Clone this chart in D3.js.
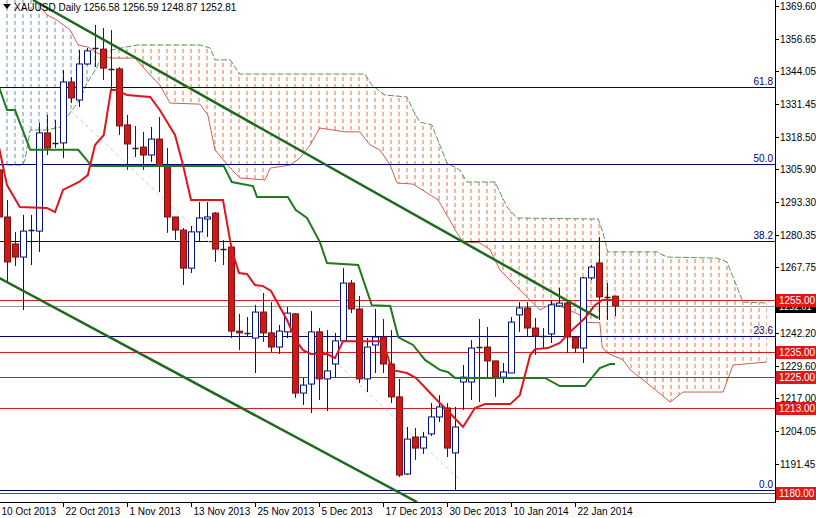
<!DOCTYPE html>
<html><head><meta charset="utf-8">
<script src="https://cdn.jsdelivr.net/npm/d3@7"></script>
<style>body{margin:0;background:#fff}svg{display:block}text{font-family:"Liberation Sans",Arial,sans-serif}</style>
</head><body><svg id="c" width="816" height="518"></svg>
<script>
// OHLC per daily bar (index 0 = 10 Oct 2013)
const opens=[1305.7,1287.4,1276.9,1271.8,1281.9,1281.9,1320.1,1316.2,1316.2,1339.9,1332.9,1346.9,1353.1,1352.7,1345.0,1345.0,1323.2,1314.2,1314.6,1311.5,1317.7,1307.2,1287.4,1282.3,1267.5,1281.6,1286.6,1288.9,1274.9,1275.7,1243.0,1242.3,1240.3,1250.4,1242.3,1236.8,1242.7,1249.7,1218.9,1222.4,1242.7,1224.4,1230.2,1239.2,1261.7,1251.6,1224.4,1237.6,1240.7,1230.2,1217.4,1187.4,1201.8,1197.5,1203.0,1209.6,1213.1,1195.6,1223.2,1223.2,1236.8,1236.8,1231.4,1225.1,1226.7,1249.3,1252.0,1244.2,1241.1,1241.9,1252.8,1253.9,1240.7,1236.4,1263.7,1269.5,1256.3,1256.58];
const highs=[1317.3,1294.0,1281.6,1288.2,1288.2,1324.0,1327.1,1325.1,1344.6,1341.8,1352.3,1353.1,1362.1,1360.9,1360.1,1345.7,1327.1,1322.8,1320.5,1322.4,1326.3,1314.2,1287.4,1283.1,1283.9,1293.2,1293.2,1289.3,1278.4,1276.5,1249.7,1248.5,1253.2,1257.8,1254.3,1245.4,1252.4,1250.0,1225.1,1250.8,1244.2,1243.4,1242.3,1267.5,1262.9,1256.7,1240.3,1251.6,1247.7,1243.4,1224.4,1205.7,1205.3,1203.8,1215.0,1218.1,1215.0,1213.5,1229.8,1239.5,1247.7,1244.6,1231.4,1230.6,1248.5,1254.3,1254.3,1248.1,1244.2,1255.1,1259.8,1254.3,1240.7,1264.0,1268.7,1279.6,1261.7,1256.59];
const lows=[1282.3,1261.7,1268.3,1251.2,1268.7,1273.8,1311.5,1314.2,1310.3,1331.7,1330.2,1346.5,1345.7,1340.7,1336.8,1319.3,1305.7,1310.7,1305.7,1308.8,1297.1,1281.2,1278.4,1260.9,1265.6,1277.7,1279.6,1269.9,1268.7,1240.3,1235.6,1240.7,1226.7,1238.8,1234.9,1234.1,1240.3,1217.0,1214.3,1211.1,1216.2,1211.9,1224.8,1238.8,1250.0,1222.8,1219.3,1226.7,1226.7,1215.0,1186.2,1187.0,1192.9,1195.2,1202.2,1207.6,1194.0,1181.2,1212.3,1216.2,1215.4,1224.8,1217.4,1222.8,1226.7,1242.7,1240.7,1233.7,1236.4,1238.4,1252.4,1234.5,1234.5,1230.6,1262.9,1247.3,1247.3,1248.87];
const closes=[1287.4,1269.9,1271.8,1281.9,1282.3,1320.1,1314.2,1316.0,1339.9,1333.7,1346.9,1352.0,1352.9,1345.3,1344.8,1322.8,1315.8,1314.0,1311.5,1317.7,1307.2,1287.4,1282.3,1267.5,1281.6,1287.0,1287.4,1274.9,1274.7,1243.0,1242.3,1242.1,1250.4,1242.3,1236.8,1243.0,1250.0,1218.9,1222.0,1242.7,1224.4,1227.5,1239.2,1261.7,1251.6,1224.4,1236.8,1240.7,1230.2,1217.4,1187.0,1201.0,1197.5,1201.8,1209.6,1213.5,1197.5,1205.7,1225.1,1236.4,1236.6,1231.4,1225.1,1227.1,1246.5,1252.0,1244.2,1241.1,1240.9,1253.2,1253.9,1240.7,1236.4,1263.7,1267.9,1256.3,1256.1,1252.81];
// Ichimoku lines as [bar index, price] vertices
const tenkan=[[0,1314.6],[1,1299.8],[2.6,1291.3],[6,1290.9],[7,1289.3],[8,1297.9],[10,1301.0],[11.1,1303.7],[12,1315.4],[13.1,1319.3],[14,1336.8],[14.75,1336.8],[16,1334.8],[18.9,1334.1],[20.1,1329.0],[22,1319.3],[23,1307.6],[24,1294.0],[28,1294.0],[29.1,1274.5],[30,1265.6],[31,1265.2],[32,1260.9],[33,1260.5],[34,1258.6],[36,1247.3],[37.1,1239.5],[38,1235.6],[39,1234.1],[41,1234.1],[42,1232.5],[43,1239.1],[48,1239.1],[49.1,1227.9],[51,1226.7],[52.1,1224.8],[53.9,1218.9],[55.1,1215.0],[56,1212.3],[58,1205.7],[59.5,1213.1],[60.75,1214.6],[63.9,1214.6],[65.1,1218.1],[65.75,1225.9],[66.4,1233.7],[67,1236.0],[68.6,1236.4],[70.1,1238.4],[71.4,1242.7],[73.25,1248.1],[74.5,1253.1],[75.4,1255.1],[77.4,1255.1]];
const kijun=[[0,1338.0],[1,1329.0],[2,1329.0],[3.9,1313.5],[9.9,1313.5],[11.6,1307.2],[28.1,1307.2],[29.1,1301.0],[31.75,1299.4],[32.25,1295.2],[36.1,1295.2],[37.1,1290.1],[38.5,1287.0],[40.1,1277.7],[41,1269.5],[44.9,1268.7],[45.75,1260.9],[46.6,1253.1],[48.9,1252.8],[49.9,1240.7],[51,1238.8],[51.75,1237.6],[53.25,1231.8],[55.1,1227.9],[56.1,1227.1],[57,1224.8],[68.25,1224.8],[70.1,1221.6],[73.25,1221.6],[75.1,1228.6],[76.4,1230.2],[77,1230.2]];
const spanA=[[0,1387.4],[3.9,1373.7],[6,1366.0],[7.25,1364.0],[8.9,1360.1],[9.9,1354.3],[11.1,1353.5],[12.25,1351.2],[13.9,1349.2],[17,1349.2],[18.9,1342.6],[20.1,1338.7],[21.4,1331.7],[25.1,1331.3],[26.1,1327.1],[27,1313.5],[28.9,1306.4],[30.1,1302.6],[33.25,1301.8],[33.9,1306.4],[36.4,1307.6],[37.6,1310.3],[38.9,1315.4],[40.1,1322.0],[43.25,1320.5],[45.1,1320.5],[46.4,1315.4],[47.6,1313.5],[48.9,1307.6],[49.75,1300.6],[51.75,1300.2],[54.9,1294.0],[57.25,1281.2],[58,1277.7],[60.1,1277.3],[61.4,1274.6],[62.6,1266.8],[64.25,1261.7],[65.5,1257.8],[67.6,1251.2],[69.25,1253.9],[72.6,1249.3],[73,1246.5],[75.1,1246.2],[75.4,1236.8],[76,1234.5],[78,1231.8],[78.9,1227.9],[81,1222.8],[83.9,1215.4],[85.5,1219.3],[90.5,1219.3],[91.75,1229.8],[96,1231.0]];
const spanB=[[0,1307.6],[2.9,1307.6],[3.25,1309.6],[3.9,1321.2],[5.75,1321.2],[7.9,1322.4],[8.5,1326.3],[10.1,1332.9],[11,1339.5],[12.25,1345.7],[13,1351.2],[13.9,1352.3],[17.25,1354.3],[25.1,1354.3],[26.4,1353.1],[27,1348.5],[28.9,1348.5],[30.1,1343.0],[45.75,1343.0],[46.6,1338.7],[48.25,1334.8],[51,1334.1],[51.75,1329.0],[52.6,1324.3],[54.1,1323.2],[56,1308.4],[57.6,1305.7],[58.5,1301.0],[62,1301.0],[63.5,1291.3],[64.75,1287.0],[74.9,1286.6],[75.5,1281.2],[76.1,1273.8],[82.25,1273.8],[83.5,1271.8],[89.75,1271.4],[91,1269.9],[92.25,1260.2],[93,1254.3],[96,1253.9]];
const trendLines=[[[4.25,1371.8],[74.9,1248.1]],[[0,1263.7],[52.25,1176.5]]];
const guideLine=[[8.9,1329.0],[57.6,1185.1]];
const fibLevels=[{p:1337.9,t:"61.8"},{p:1308.0,t:"50.0"},{p:1278.1,t:"38.2"},{p:1240.9,t:"23.6"},{p:1181.2,t:"0.0"}];
const levels=[1255,1235,1225,1213,1180];
const lastPrice=1252.81;
const yTicks=[1369.60,1356.65,1344.05,1331.45,1318.50,1305.90,1293.30,1280.35,1267.75,1242.20,1229.60,1217.00,1204.05,1191.45];
const xTickIdx=[0,8,16,24,32,40,48,56,64,72];
const xTickLab=["10 Oct 2013","22 Oct 2013","1 Nov 2013","13 Nov 2013","25 Nov 2013","5 Dec 2013","17 Dec 2013","30 Dec 2013","10 Jan 2014","22 Jan 2014"];
const title="XAUUSD Daily  1256.58 1256.59 1248.87 1252.81";

const W=775,H=502;
const svg=d3.select("#c");
const x=d3.scaleLinear().domain([0,1]).range([-1,7]);
const y=d3.scaleLinear().domain([1371.8,1180]).range([0,493.05]);
const defs=svg.append("defs");
defs.append("clipPath").attr("id","plot").append("rect").attr("width",W).attr("height",H);
defs.append("clipPath").attr("id","bull").append("rect").attr("x",0).attr("width",x(13.5)).attr("height",H);
defs.append("clipPath").attr("id","bear").append("rect").attr("x",x(13.5)).attr("width",W).attr("height",H);
function pat(id,col){const p=defs.append("pattern").attr("id",id).attr("patternUnits","userSpaceOnUse").attr("x",x(0)-0.5).attr("y",0).attr("width",8).attr("height",7);
 p.append("rect").attr("x",0).attr("y",0).attr("width",1).attr("height",4).attr("fill",col);}
pat("pb","#6f8cab");pat("po","#d9773f");
const g=svg.append("g").attr("clip-path","url(#plot)");
const line=d3.line().x(d=>x(d[0])).y(d=>y(d[1]));
const poly=spanA.concat(spanB.slice().reverse());
g.append("path").attr("d",line(poly)+"Z").attr("fill","url(#pb)").attr("clip-path","url(#bull)");
g.append("path").attr("d",line(poly)+"Z").attr("fill","url(#po)").attr("clip-path","url(#bear)");
g.append("path").attr("d",line(spanA)).attr("fill","none").attr("stroke","#b83a2b").attr("stroke-width",0.8);
g.append("path").attr("d",line(spanB)).attr("fill","none").attr("stroke","#2e7d2e").attr("stroke-width",0.8).attr("stroke-dasharray","6,2");
fibLevels.forEach(f=>{g.append("line").attr("x1",0).attr("x2",W).attr("y1",Math.round(y(f.p))+0.5).attr("y2",Math.round(y(f.p))+0.5).attr("stroke","#000070").attr("stroke-width",1);
 svg.append("text").attr("x",773).attr("y",Math.round(y(f.p))-2).attr("text-anchor","end").attr("font-size",10).attr("fill","#000070").text(f.t);});
levels.forEach(l=>g.append("line").attr("x1",0).attr("x2",W).attr("y1",Math.round(y(l))+0.5).attr("y2",Math.round(y(l))+0.5).attr("stroke","#d42020").attr("stroke-width",1));
g.append("line").attr("x1",0).attr("x2",W).attr("y1",Math.round(y(lastPrice))+0.5).attr("y2",Math.round(y(lastPrice))+0.5).attr("stroke","#999").attr("stroke-width",1);
g.append("path").attr("d",line(guideLine)).attr("stroke","#ccc").attr("stroke-dasharray","4,3").attr("fill","none");
const bars=g.append("g");
opens.forEach((o,i)=>{const c=closes[i],cx=Math.round(x(i))+0.5,bull=c>=o;
 const col=bull?"#00107a":"#202020";
 bars.append("line").attr("x1",cx).attr("x2",cx).attr("y1",y(highs[i])).attr("y2",y(lows[i])).attr("stroke",col);
 const t=y(Math.max(o,c)),b=y(Math.min(o,c));
 if(b-t<1.5){bars.append("line").attr("x1",cx-3).attr("x2",cx+3).attr("y1",Math.round(t)+0.5).attr("y2",Math.round(t)+0.5).attr("stroke",col).attr("stroke-width",1.5);}
 else bars.append("rect").attr("x",cx-3).attr("y",t).attr("width",6).attr("height",b-t).attr("fill",bull?"#fff":"#cc1a1a").attr("stroke",bull?"#00107a":"#7a1010").attr("stroke-width",1);
});
g.append("path").attr("d",line(kijun)).attr("fill","none").attr("stroke","#1f7a1f").attr("stroke-width",2);
g.append("path").attr("d",line(tenkan)).attr("fill","none").attr("stroke","#e0141c").attr("stroke-width",2);
trendLines.forEach(t=>g.append("path").attr("d",line(t)).attr("fill","none").attr("stroke","#1d6a1d").attr("stroke-width",2.5));
svg.append("line").attr("x1",W+0.5).attr("x2",W+0.5).attr("y1",0).attr("y2",H).attr("stroke","#000");
svg.append("line").attr("x1",0).attr("x2",W+1).attr("y1",H+0.5).attr("y2",H+0.5).attr("stroke","#000");
yTicks.forEach(v=>{const yy=Math.round(y(v))+0.5;svg.append("line").attr("x1",W).attr("x2",W+4).attr("y1",yy).attr("y2",yy).attr("stroke","#000");
 svg.append("text").attr("x",W+5).attr("y",yy+3.5).attr("font-size",10).attr("fill","#000").text(v.toFixed(2));});
function tag(v,bg,fs){const yy=Math.round(y(v));svg.append("rect").attr("x",W+1).attr("y",yy-6).attr("width",40).attr("height",13).attr("fill",bg);
 svg.append("text").attr("x",W+4).attr("y",yy+4).attr("font-size",fs||10).attr("fill","#fff").text(v.toFixed(2));}
tag(lastPrice,"#000",9);levels.forEach(l=>tag(l,"#e01818"));
xTickIdx.forEach((k,i)=>{const xx=Math.round(x(k))+0.5;svg.append("line").attr("x1",xx).attr("x2",xx).attr("y1",H).attr("y2",H+5).attr("stroke","#000");
 svg.append("text").attr("x",xx+2).attr("y",H+13).attr("font-size",10).attr("fill","#000").text(xTickLab[i]);});
svg.append("path").attr("d","M3,4 L11,4 L7,9 Z").attr("fill","#000");
svg.append("text").attr("x",14).attr("y",11).attr("font-size",10).attr("fill","#000").text(title);
</script></body></html>
